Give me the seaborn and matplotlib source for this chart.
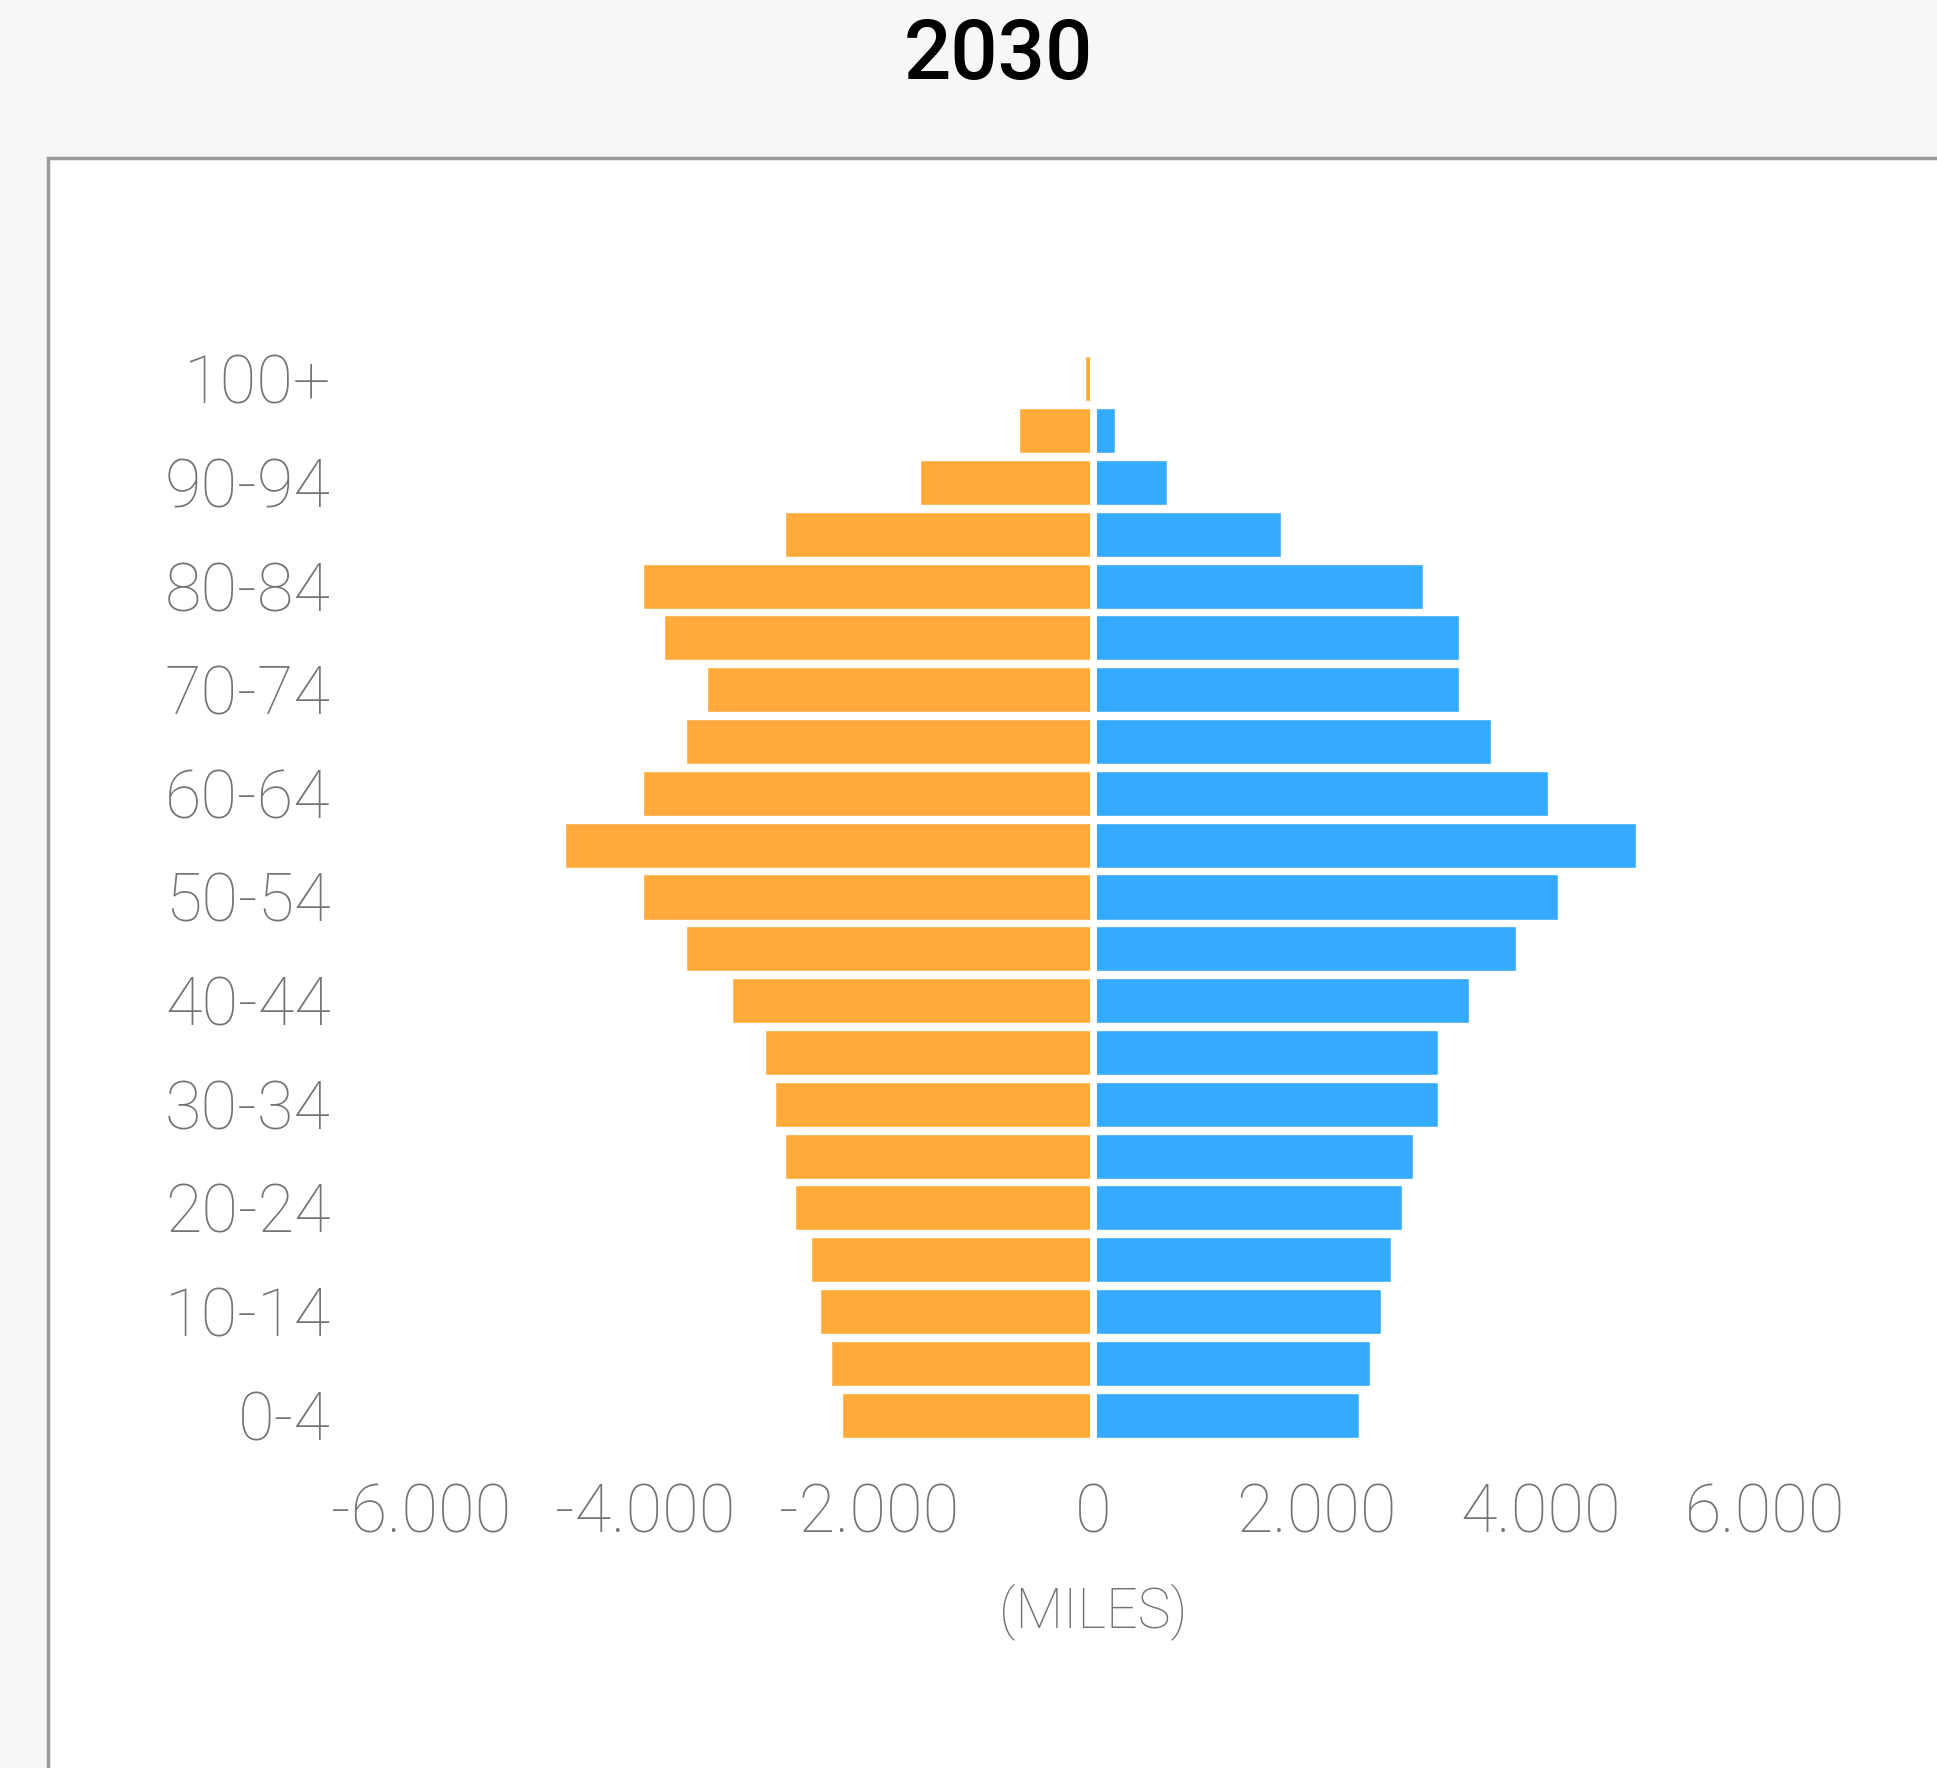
import pandas as pd
import matplotlib
matplotlib.use("Agg")
import matplotlib.pyplot as plt
from matplotlib.patches import Rectangle
from matplotlib.ticker import FuncFormatter
import seaborn as sns


sns.set_style("white")
plt.rcParams['font.family'] = ['Roboto', 'DejaVu Sans']

# age groups, bottom to top
ages = ["0-4", "5-9", "10-14", "15-19", "20-24", "25-29", "30-34", "35-39",
        "40-44", "45-49", "50-54", "55-59", "60-64", "65-69", "70-74",
        "75-79", "80-84", "85-89", "90-94", "95-99", "100+"]

# thousands of people (left side, orange)
mujeres = [2240, 2340, 2440, 2520, 2660, 2750, 2840, 2930, 3220, 3630,
           4020, 4710, 4020, 3630, 3450, 3830, 4020, 2750, 1545, 660, 70]

# thousands of people (right side, blue)
hombres = [2375, 2475, 2570, 2660, 2760, 2860, 3080, 3080, 3360, 3780,
           4150, 4850, 4060, 3555, 3270, 3270, 2945, 1680, 665, 195, 20]

shown_labels = ["0-4", "10-14", "20-24", "30-34", "40-44", "50-54",
                "60-64", "70-74", "80-84", "90-94", "100+"]

colors = {"Mujeres": "#ffaa3a", "Hombres": "#36aaff"}

W, H = 1937, 1768


def thousands(v, pos):
    return f"{int(round(v)):,}".replace(",", ".")


def main():
    df = pd.concat([
        pd.DataFrame({"age": ages, "value": [-v for v in mujeres], "sex": "Mujeres"}),
        pd.DataFrame({"age": ages, "value": hombres, "sex": "Hombres"}),
    ], ignore_index=True)
    order = ages[::-1]

    fig = plt.figure(figsize=(W / 100, H / 100), dpi=100)
    fig.patch.set_facecolor("#f7f7f7")
    panel = Rectangle((48 / W, -0.1), 1.0, 1.1 - 158 / H,
                      transform=fig.transFigure, facecolor="white",
                      edgecolor="#9a9a9a", linewidth=2.5, zorder=0)
    fig.add_artist(panel)

    ax = fig.add_axes([421 / W, 1 - 1441 / H, (1765 - 421) / W, (1441 - 353) / H])
    ax.set_facecolor("none")

    sns.barplot(data=df, x="value", y="age", hue="sex", order=order,
                hue_order=["Mujeres", "Hombres"], palette=colors,
                saturation=1, dodge=False, width=0.87, orient="h",
                ax=ax, legend=False)
    ax.axvline(0, color="white", linewidth=5, zorder=5)

    ax.set_xlim(-6000, 6000)
    ax.set_ylim(len(order) - 0.5, -0.5)
    ax.set_xticks([-6000, -4000, -2000, 0, 2000, 4000, 6000])
    ax.xaxis.set_major_formatter(FuncFormatter(thousands))
    ax.set_yticks([order.index(a) for a in shown_labels])
    ax.set_yticklabels(shown_labels)

    ax.tick_params(axis="both", length=0, colors="#747474", labelsize=48)
    ax.tick_params(axis="y", pad=65)
    ax.tick_params(axis="x", pad=30)
    for lbl in ax.get_xticklabels() + ax.get_yticklabels():
        lbl.set_fontweight("light")
    ax.set_ylabel("")
    ax.set_xlabel("(MILES)", fontsize=40, color="#747474", labelpad=26,
                  fontweight="light")
    sns.despine(ax=ax, left=True, bottom=True)

    fig.text(998 / W, 1 - 56 / H, "2030", ha="center", va="center",
             fontsize=60, fontweight="medium", color="black")

    fig.savefig("out.png", dpi=100, facecolor=fig.get_facecolor())


if __name__ == "__main__":
    main()
